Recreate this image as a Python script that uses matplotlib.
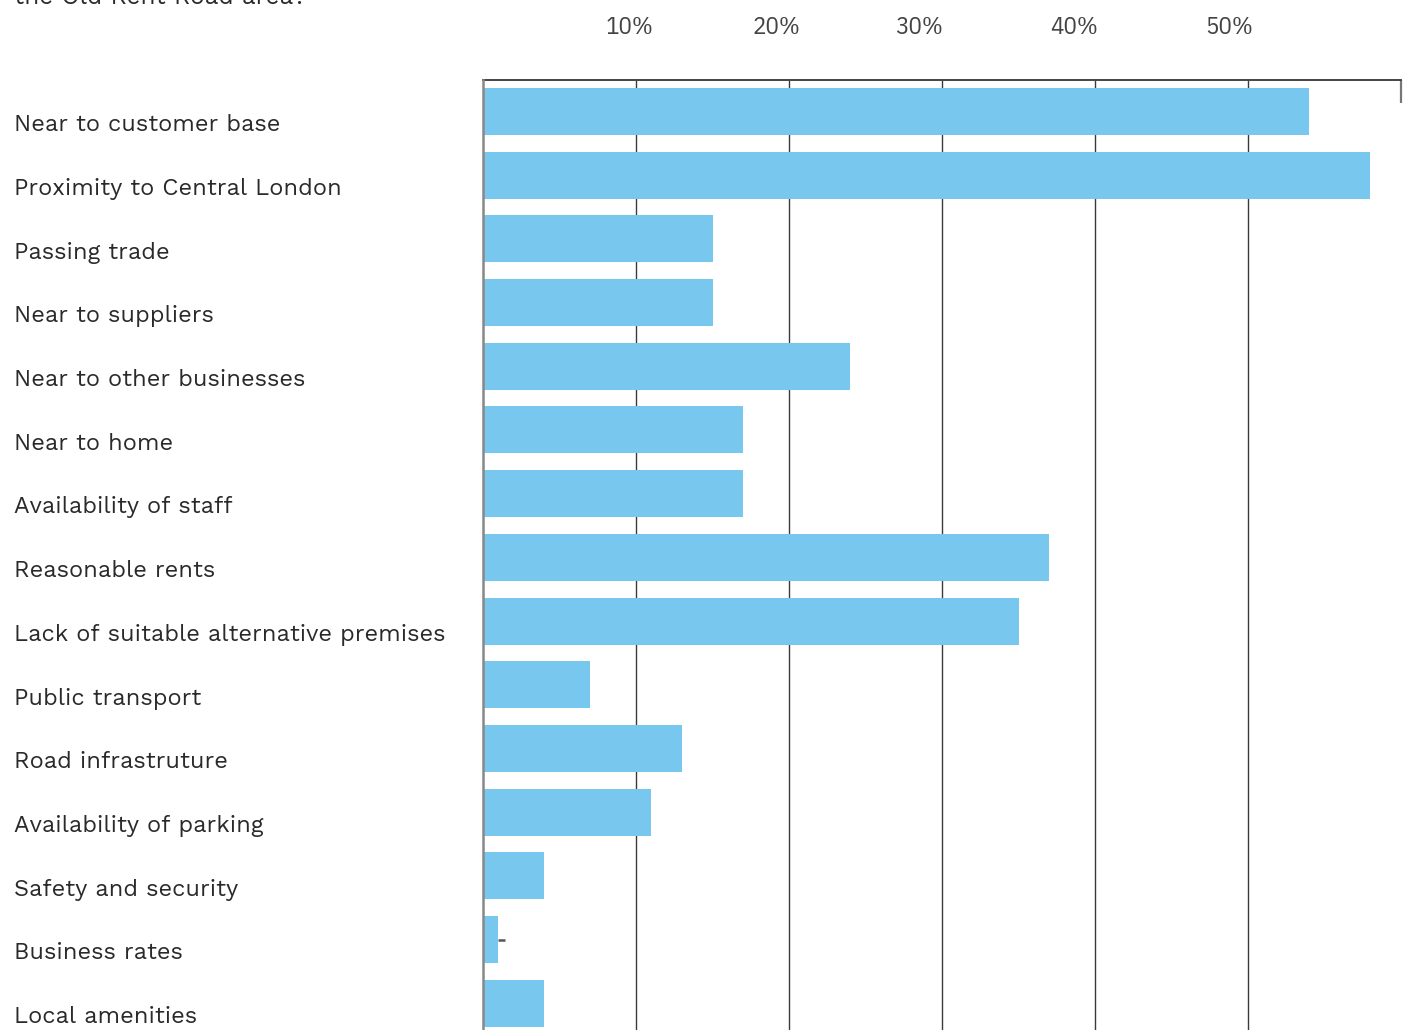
import matplotlib
matplotlib.use("Agg")
import matplotlib.pyplot as plt
import matplotlib.transforms as mtransforms

categories = [
    "Near to customer base",
    "Proximity to Central London",
    "Passing trade",
    "Near to suppliers",
    "Near to other businesses",
    "Near to home",
    "Availability of staff",
    "Reasonable rents",
    "Lack of suitable alternative premises",
    "Public transport",
    "Road infrastruture",
    "Availability of parking",
    "Safety and security",
    "Business rates",
    "Local amenities",
]
values = [54, 58, 15, 15, 24, 17, 17, 37, 35, 7, 13, 11, 4, 1, 4]
tick_values = [10, 20, 30, 40, 50]
tick_labels = ["10%", "20%", "30%", "40%", "50%"]
tick_label_pos = [9.55, 19.15, 28.5, 38.6, 48.8]
title_text = "the Old Kent Road area?"
# small stray mark next to the "Business rates" bar
note_category = "Business rates"
note_len = 0.45

BAR = "#78C7EE"
GRID = "#3a3a3a"
LABEL_FONT = ["Work Sans", "DejaVu Sans"]
TICK_FONT = ["IBM Plex Sans Condensed", "DejaVu Sans"]

W, H = 1410, 1030
fig = plt.figure(figsize=(W / 100, H / 100), dpi=100)
ax_left, ax_right, ax_top = 483, 1401, 80
ax = fig.add_axes([ax_left / W, 0, (ax_right - ax_left) / W, (H - ax_top) / H])

n = len(categories)
ypos = list(range(n))
ax.set_xlim(0, 60)
ytop = -0.494
ybot = 14.42
ax.set_ylim(ybot, ytop)

ax.barh(ypos, values, height=0.738, color=BAR, zorder=3, linewidth=0)
ax.vlines(tick_values, ytop, ybot, color=GRID, lw=1.0, zorder=1)
ax.vlines([60], ytop, ytop + 0.36, color="#777777", lw=1.6, zorder=1, clip_on=False)

ni = categories.index(note_category)
v = values[ni]
ax.plot([v, v + note_len], [ni, ni], color="#555555", lw=1.8, zorder=4, solid_capstyle="butt")

for s in ["right", "bottom"]:
    ax.spines[s].set_visible(False)
ax.spines["top"].set_color("#444444")
ax.spines["top"].set_linewidth(1.4)
ax.spines["left"].set_color("#888888")
ax.spines["left"].set_linewidth(1.8)
ax.spines["left"].set_zorder(5)
ax.set_xticks([])
ax.set_yticks([])

# category labels
trans_lab = mtransforms.blended_transform_factory(fig.transFigure, ax.transData)
trans_lab = mtransforms.offset_copy(trans_lab, fig=fig, y=-19.8, units="dots")
for i, c in enumerate(categories):
    ax.text(14 / W, i, c, transform=trans_lab, ha="left", va="baseline",
            fontsize=17, family=LABEL_FONT, weight="light", color="#2a2a2a")

# top tick labels
trans_tick = mtransforms.blended_transform_factory(ax.transData, fig.transFigure)
for p, t in zip(tick_label_pos, tick_labels):
    ax.text(p, 1 - 34.3 / H, t, transform=trans_tick, ha="center", va="baseline",
            fontsize=18, family=TICK_FONT, weight="normal", color="#444444")

# clipped title at top
fig.text(14 / W, 1 - 4 / H, title_text, ha="left", va="baseline",
         fontsize=17.5, family=LABEL_FONT, weight="light", color="#2a2a2a")

fig.savefig("out.png", dpi=100)
